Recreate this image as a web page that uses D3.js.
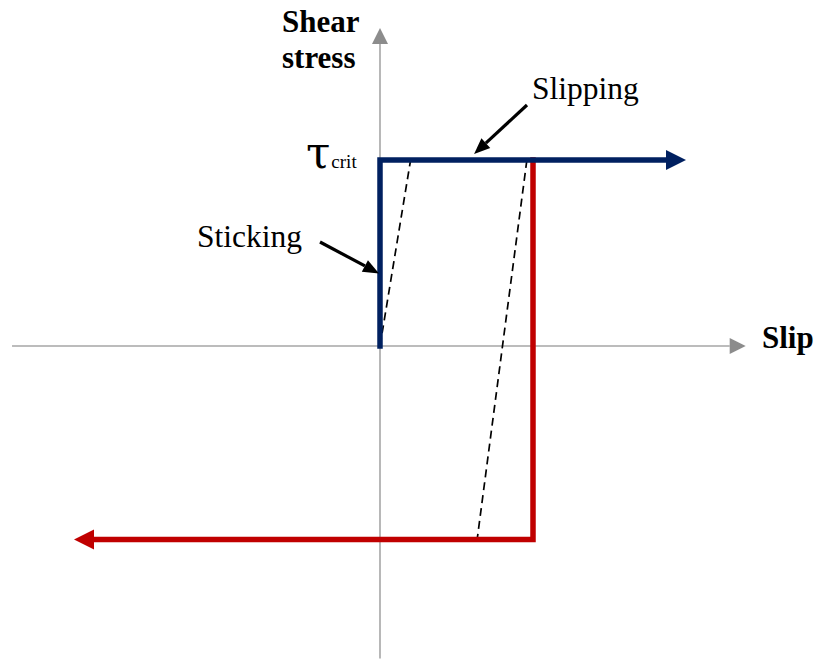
<!DOCTYPE html>
<html>
<head>
<meta charset="utf-8">
<script src="https://cdn.jsdelivr.net/npm/d3@7"></script>
<style>
  html, body { margin: 0; padding: 0; background: #fff; }
  svg { display: block; }
</style>
</head>
<body>
<div id="chart"></div>
<script>
// Dữ liệu: slip tính theo đơn vị của độ trượt khi dỡ tải, stress theo tau_crit
const slipAxis = [-2.405, 2.39];
const stressAxis = [-1.68, 1.71];

const stickSlip = [0, 0, 2];
const stickStress = [0, 1, 1];

const reverseSlip = [1, 1, -2];
const reverseStress = [1, -1.04, -1.04];

const dashSlip = [[0, 0.2], [0.96, 0.635]];
const dashStress = [[0, 1], [1, -1.04]];

const labels = {
  yTitle: ["Shear", "stress"],
  xTitle: "Slip",
  stick: "Sticking",
  slip: "Slipping"
};

const width = 819, height = 659;

const svg = d3.select("#chart").append("svg")
  .attr("width", width)
  .attr("height", height)
  .style("font-family", "'Liberation Serif', 'Times New Roman', serif");

// Thang đo: gốc (0,0) ở (380,346)
const x = d3.scaleLinear().domain([0, 1]).range([380, 533]);
const y = d3.scaleLinear().domain([0, 1]).range([346, 160]);

// đầu mũi tên (tam giác) — tip, hướng, dài, rộng
function head(tip, dir, len, w) {
  const [dx, dy] = dir;
  const bx = tip[0] - dx * len, by = tip[1] - dy * len;
  const nx = -dy * w / 2, ny = dx * w / 2;
  return [[tip[0], tip[1]], [bx + nx, by + ny], [bx - nx, by - ny]];
}
function unit(a, b) {
  const dx = b[0] - a[0], dy = b[1] - a[1], l = Math.hypot(dx, dy);
  return [dx / l, dy / l];
}

// Trục
const axisColor = "#a6a6a6";
const headColor = "#8c8c8c";
const xa0 = [x(slipAxis[0]), y(0)], xa1 = [x(slipAxis[1]), y(0)];
const ya0 = [x(0), y(stressAxis[0])], ya1 = [x(0), y(stressAxis[1])];

[[xa0, xa1], [ya0, ya1]].forEach(([a, b]) => {
  const u = unit(a, b), len = 16;
  svg.append("line")
    .attr("x1", a[0]).attr("y1", a[1])
    .attr("x2", b[0] - u[0] * len).attr("y2", b[1] - u[1] * len)
    .attr("stroke", axisColor).attr("stroke-width", 1.6);
  svg.append("polygon")
    .attr("points", head(b, u, len, 16).join(" "))
    .attr("fill", headColor);
});

// Đường gạch (dỡ tải đàn hồi)
dashSlip.forEach((s, i) => {
  svg.append("line")
    .attr("x1", x(s[0])).attr("y1", y(dashStress[i][0]))
    .attr("x2", x(s[1])).attr("y2", y(dashStress[i][1]))
    .attr("stroke", "#000").attr("stroke-width", 1.7)
    .attr("stroke-dasharray", "8,5");
});

// Đường chính với mũi tên ở cuối
function drawPath(sx, sy, color) {
  const pts = sx.map((d, i) => [x(d), y(sy[i])]);
  const n = pts.length;
  const u = unit(pts[n - 2], pts[n - 1]);
  const len = 20;
  const body = pts.slice(0, n - 1).concat([[pts[n - 1][0] - u[0] * len, pts[n - 1][1] - u[1] * len]]);
  svg.append("path")
    .attr("d", d3.line()(body))
    .attr("fill", "none")
    .attr("stroke", color)
    .attr("stroke-width", 5.5)
    .attr("stroke-linejoin", "miter")
    .attr("stroke-linecap", "square");
  svg.append("polygon")
    .attr("points", head(pts[n - 1], u, len, 20).join(" "))
    .attr("fill", color);
}
drawPath(reverseSlip, reverseStress, "#c00000");
drawPath(stickSlip, stickStress, "#002060");

// Mũi tên chú thích
function pointer(from, tip) {
  const u = unit(from, tip), len = 16;
  svg.append("line")
    .attr("x1", from[0]).attr("y1", from[1])
    .attr("x2", tip[0] - u[0] * len).attr("y2", tip[1] - u[1] * len)
    .attr("stroke", "#000").attr("stroke-width", 3.2);
  svg.append("polygon")
    .attr("points", head(tip, u, len, 13).join(" "))
    .attr("fill", "#000");
}
pointer([320, 242], [x(0) - 1, y(0.39)]);
pointer([527, 105], [x(0.615), y(1) - 6]);

// Nhãn
svg.append("text")
  .attr("x", 282).attr("y", 32)
  .style("font-size", "31px").style("font-weight", "bold")
  .text(labels.yTitle[0]);
svg.append("text")
  .attr("x", 282).attr("y", 68)
  .style("font-size", "31px").style("font-weight", "bold")
  .text(labels.yTitle[1]);
svg.append("text")
  .attr("x", 762).attr("y", 348)
  .style("font-size", "31px").style("font-weight", "bold")
  .text(labels.xTitle);

const tau = svg.append("text")
  .attr("x", 306).attr("y", 168);
tau.append("tspan")
  .style("font-family", "'DejaVu Serif', serif")
  .style("font-size", "44px").text("τ");
tau.append("tspan").style("font-size", "19px").attr("dx", 1).text("crit");

svg.append("text")
  .attr("x", 197).attr("y", 247)
  .style("font-size", "31.5px")
  .text(labels.stick);
svg.append("text")
  .attr("x", 532).attr("y", 99)
  .style("font-size", "31.5px")
  .text(labels.slip);
</script>
</body>
</html>
